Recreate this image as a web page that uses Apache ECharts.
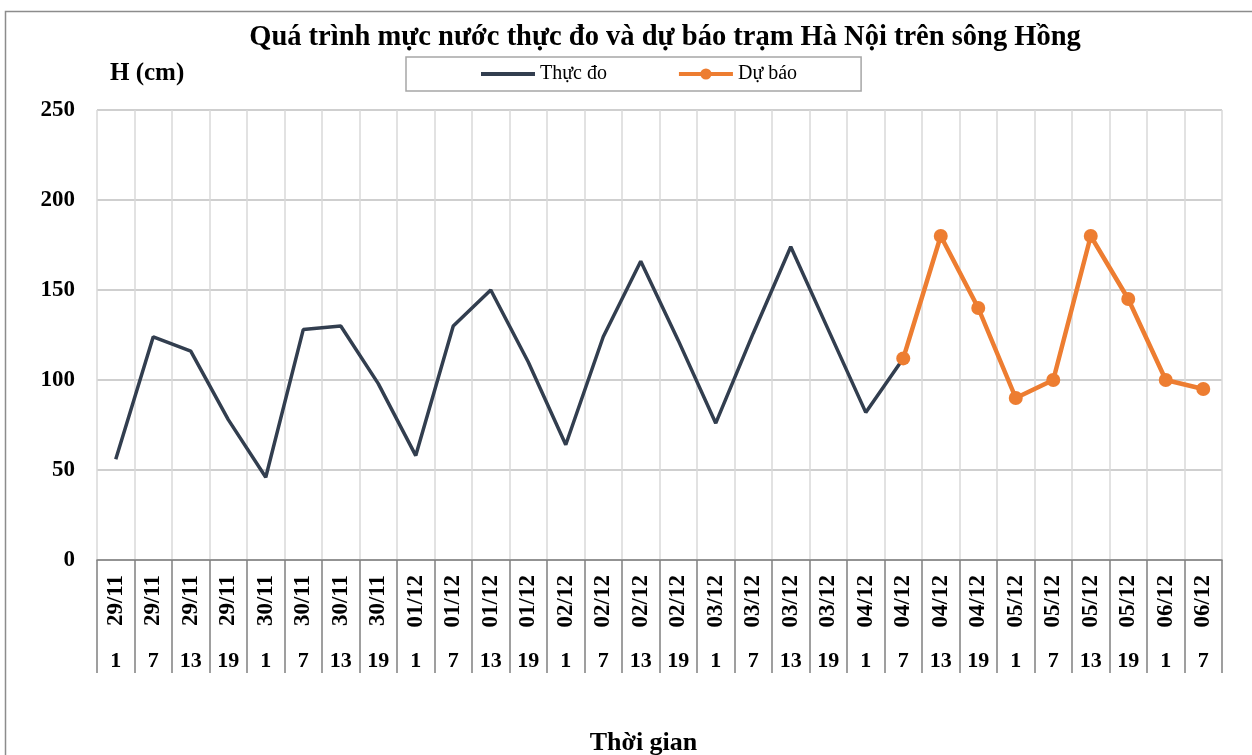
<!DOCTYPE html>
<html>
<head>
    <meta charset="utf-8">
    <title>Mực nước trạm Hà Nội</title>
    <script src="https://cdn.jsdelivr.net/npm/echarts@6/dist/echarts.min.js"></script>
    <style>
        html, body { margin: 0; padding: 0; background: #fff; }
        #main { width: 1252px; height: 755px; }
    </style>
</head>
<body>
<div id="main"></div>
<script type="text/javascript">
    // ngày và giờ quan trắc (hai hàng nhãn trục hoành)
    var dates = ['29/11', '29/11', '29/11', '29/11', '30/11', '30/11', '30/11', '30/11',
        '01/12', '01/12', '01/12', '01/12', '02/12', '02/12', '02/12', '02/12',
        '03/12', '03/12', '03/12', '03/12', '04/12', '04/12', '04/12', '04/12',
        '05/12', '05/12', '05/12', '05/12', '06/12', '06/12'];
    var hours = ['1', '7', '13', '19', '1', '7', '13', '19',
        '1', '7', '13', '19', '1', '7', '13', '19',
        '1', '7', '13', '19', '1', '7', '13', '19',
        '1', '7', '13', '19', '1', '7'];
    // mực nước thực đo (cm)
    var thucDo = [56, 124, 116, 78, 46, 128, 130, 98, 58, 130, 150, 110, 64, 124, 166, 122,
        76, 126, 174, 128, 82, 112, null, null, null, null, null, null, null, null];
    // mực nước dự báo (cm)
    var duBao = [null, null, null, null, null, null, null, null, null, null, null, null,
        null, null, null, null, null, null, null, null, null, 112, 180, 140, 90, 100, 180, 145, 100, 95];
    var yTicks = [0, 50, 100, 150, 200, 250];

    var serif = 'Liberation Serif';
    var myChart = echarts.init(document.getElementById('main'));

    var option = {
        animation: false,
        backgroundColor: '#fff',
        graphic: [{
            type: 'rect',
            shape: { x: 5.5, y: 11.5, width: 1270, height: 770 },
            style: { fill: 'none', stroke: '#8c8c8c', lineWidth: 1.5 },
            silent: true
        }],
        title: {
            text: 'Quá trình mực nước thực đo và dự báo trạm Hà Nội trên sông Hồng',
            left: 660,
            textAlign: 'center',
            top: 18,
            textStyle: { fontFamily: serif, fontWeight: 'bold', fontSize: 28.5, color: '#000' }
        },
        legend: {
            left: 406,
            top: 57,
            padding: [7, 64, 7, 73],
            itemGap: 70,
            itemWidth: 54,
            itemHeight: 14,
            borderColor: '#a6a6a6',
            borderWidth: 1.5,
            lineStyle: { width: 4 },
            textStyle: { fontFamily: serif, fontSize: 20, color: '#000' },
            data: [
                { name: 'Thực đo', itemStyle: { color: 'rgba(0,0,0,0)', borderWidth: 0 } },
                { name: 'Dự báo' }
            ]
        },
        grid: { left: 97, right: 30, top: 110, bottom: 195, containLabel: false, outerBoundsMode: 'none' },
        xAxis: [{
            type: 'category',
            data: dates,
            boundaryGap: true,
            name: 'Thời gian',
            nameLocation: 'middle',
            nameGap: 170,
            nameTextStyle: { fontFamily: serif, fontWeight: 'bold', fontSize: 26, color: '#000', padding: [0, 32, 0, 0] },
            axisLine: { lineStyle: { color: '#808080', width: 1.5 } },
            axisTick: { show: true, interval: 0, length: 113, lineStyle: { color: '#808080', width: 1.5 } },
            splitLine: { show: true, interval: 0, lineStyle: { color: '#d9d9d9', width: 1.5 } },
            axisLabel: {
                interval: 0, rotate: 90, margin: 15,
                fontFamily: serif, fontWeight: 'bold', fontSize: 23, color: '#000'
            }
        }, {
            type: 'category',
            data: hours,
            position: 'bottom',
            offset: 82,
            boundaryGap: true,
            axisLine: { show: false },
            axisTick: { show: false },
            splitLine: { show: false },
            axisLabel: {
                interval: 0, margin: 8,
                fontFamily: serif, fontWeight: 'bold', fontSize: 22, color: '#000'
            }
        }],
        yAxis: {
            type: 'value',
            min: yTicks[0],
            max: yTicks[yTicks.length - 1],
            interval: 50,
            name: 'H (cm)',
            nameLocation: 'end',
            nameGap: 24,
            nameTextStyle: { fontFamily: serif, fontWeight: 'bold', fontSize: 25, color: '#000', align: 'left', padding: [0, 0, 0, 13] },
            axisLine: { show: false },
            axisTick: { show: false },
            splitLine: { lineStyle: { color: '#bfbfbf', width: 1.5 } },
            axisLabel: { margin: 22, fontFamily: serif, fontWeight: 'bold', fontSize: 23, color: '#000' }
        },
        series: [{
            name: 'Thực đo',
            type: 'line',
            xAxisIndex: 0,
            data: thucDo,
            symbol: 'none',
            color: '#323e4f',
            lineStyle: { color: '#323e4f', width: 3.5 }
        }, {
            name: 'Dự báo',
            type: 'line',
            xAxisIndex: 0,
            data: duBao,
            symbol: 'circle',
            symbolSize: 14,
            color: '#ed7d31',
            itemStyle: { color: '#ed7d31' },
            lineStyle: { color: '#ed7d31', width: 4.5 }
        }]
    };
    myChart.setOption(option);
</script>
</body>
</html>
